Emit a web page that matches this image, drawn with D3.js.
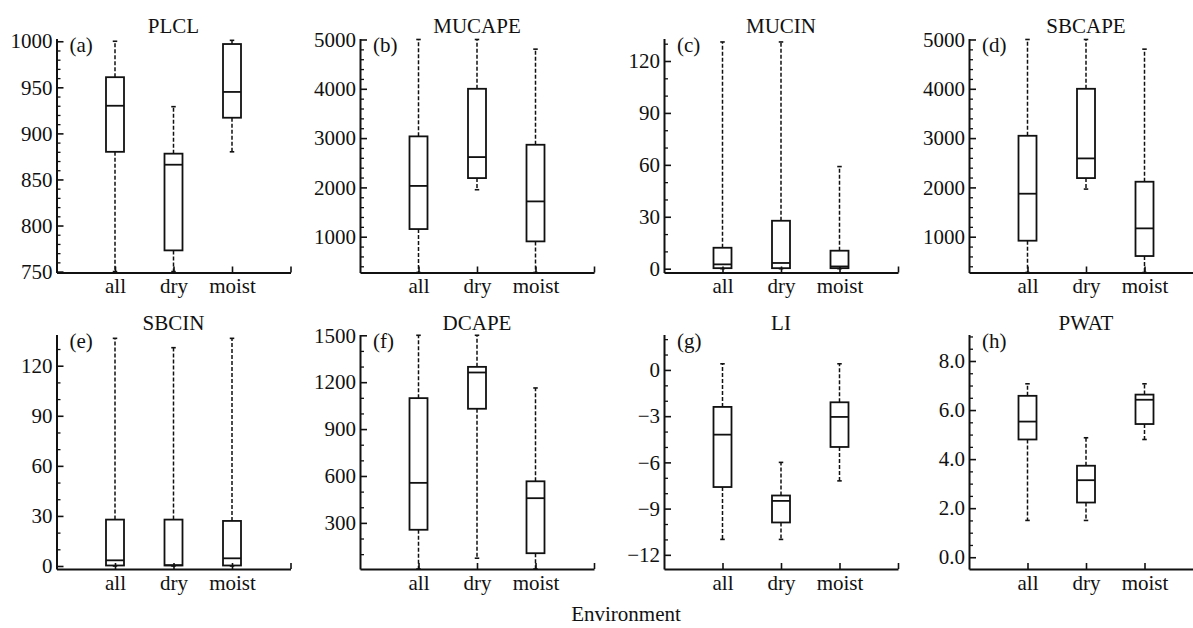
<!DOCTYPE html>
<html>
<head>
<meta charset="utf-8">
<script src="https://cdn.jsdelivr.net/npm/d3@7"></script>
<style>
  html, body { margin: 0; padding: 0; background: #fff; }
  svg { display: block; }
  svg text { font-family: "Liberation Serif", "Times New Roman", serif; }
</style>
</head>
<body>
<svg id="chart" width="1193" height="628"></svg>
<script>
// ---------------- data ----------------
const categories = ["all", "dry", "moist"];
const panelTitles = ["PLCL", "MUCAPE", "MUCIN", "SBCAPE", "SBCIN", "DCAPE", "LI", "PWAT"];
const panelLetters = ["(a)", "(b)", "(c)", "(d)", "(e)", "(f)", "(g)", "(h)"];
const xAxisTitle = "Environment";

// five-number summaries per category: [whisker low, Q1, median, Q3, whisker high]
const plclStats   = [[750, 880, 930, 961, 1000], [750, 773, 866, 878, 929], [880, 917, 945, 997, 1001]];
const mucapeStats = [[0, 1155, 2030, 3035, 5000], [1953, 2189, 2615, 4000, 5000], [0, 905, 1716, 2865, 4804]];
const mucinStats  = [[0, 0.3, 2.5, 12.1, 131], [0, 0.3, 3.3, 27.7, 131], [0, 0.3, 1.3, 10.4, 59]];
const sbcapeStats = [[0, 919, 1872, 3047, 5000], [1966, 2189, 2588, 4000, 5000], [0, 608, 1169, 2115, 4804]];
const sbcinStats  = [[0, 0.3, 3.4, 27.8, 136.4], [0, 0.3, 0.5, 27.8, 130.8], [0, 0.3, 4.6, 27, 136.4]];
const dcapeStats  = [[0, 256, 556, 1098, 1500], [74, 1030, 1262, 1298, 1500], [0, 106, 458, 566, 1163]];
const liStats     = [[-11, -7.6, -4.2, -2.4, 0.4], [-11, -9.9, -8.5, -8.15, -6], [-7.2, -5, -3.05, -2.1, 0.4]];
const pwatStats   = [[1.5, 4.8, 5.53, 6.58, 7.07], [1.5, 2.23, 3.14, 3.73, 4.87], [4.8, 5.43, 6.42, 6.63, 7.07]];
const panelStats = [plclStats, mucapeStats, mucinStats, sbcapeStats, sbcinStats, dcapeStats, liStats, pwatStats];

// y-axis domains and tick labels
const yDomains = [[749, 1003], [274, 5020], [-2.2, 133], [274, 5020], [-1.8, 138.7], [5, 1505], [-12.92, 2.3], [-0.48, 9.08]];
const yTickValues = [
  [750, 800, 850, 900, 950, 1000],
  [1000, 2000, 3000, 4000, 5000],
  [0, 30, 60, 90, 120],
  [1000, 2000, 3000, 4000, 5000],
  [0, 30, 60, 90, 120],
  [300, 600, 900, 1200, 1500],
  [-12, -9, -6, -3, 0],
  [0, 2, 4, 6, 8]
];
const yMinorSteps = [10, 200, 10, 200, 10, 100, 1, 0.5];
const yTickFormats = ["d", "d", "d", "d", "d", "d", "minus", ".1f"];

// ---------------- layout ----------------
const colX = [56.5, 360, 664, 969];
const rowTop = [38.5, 334.5];
const rowBottom = [272.5, 569];
const plotW = 234;
const ink = "#111";
const FONT = "'Liberation Serif', 'Times New Roman', serif";
const FS = "21px";

const svg = d3.select("#chart");

function fmt(kind) {
  if (kind === "minus") return d => (d < 0 ? "\u2212" + Math.abs(d) : String(d));
  return d3.format(kind);
}

function styleText(sel) {
  sel.attr("font-family", null).attr("font-size", null);
  sel.selectAll("text").attr("fill", ink).style("font-family", FONT).style("font-size", FS);
}

panelStats.forEach((stats, i) => {
  const col = i % 4, row = Math.floor(i / 4);
  const x0 = colX[col], top = rowTop[row], bottom = rowBottom[row];
  const g = svg.append("g").attr("transform", `translate(${x0},0)`);

  const x = d3.scaleLinear().domain([0, 4]).range([0, plotW]);
  const y = d3.scaleLinear().domain(yDomains[i]).range([bottom, top]).clamp(true);

  // minor ticks
  const dom = yDomains[i];
  const step = yMinorSteps[i];
  const minor = d3.range(Math.ceil(dom[0] / step) * step, dom[1] + 1e-9, step)
    .map(v => +v.toFixed(6))
    .filter(v => !yTickValues[i].some(t => Math.abs(t - v) < 1e-6));
  g.append("g")
    .call(d3.axisLeft(y).tickValues(minor).tickSize(-4).tickSizeOuter(0).tickFormat(""))
    .call(a => a.select(".domain").remove())
    .call(a => a.selectAll("line").attr("stroke", ink).attr("stroke-width", 1.3));

  // major y axis
  g.append("g")
    .call(d3.axisLeft(y).tickValues(yTickValues[i]).tickSize(-7).tickSizeOuter(0).tickPadding(4).tickFormat(fmt(yTickFormats[i])))
    .call(a => a.select(".domain").attr("stroke", ink).attr("stroke-width", 2))
    .call(a => a.selectAll("line").attr("stroke", ink).attr("stroke-width", 1.6))
    .call(styleText);

  // x axis
  g.append("g")
    .attr("transform", `translate(0,${bottom})`)
    .call(d3.axisBottom(x).tickValues([1, 2, 3, 4]).tickSize(-6).tickSizeOuter(0).tickPadding(6)
      .tickFormat(d => categories[d - 1] || ""))
    .call(a => a.select(".domain").attr("stroke", ink).attr("stroke-width", 2))
    .call(a => a.selectAll("line").attr("stroke", ink).attr("stroke-width", 1.6))
    .call(styleText);

  // boxes
  const bw = 18, cap = 4.5;
  stats.forEach((s, j) => {
    const cx = x(j + 1);
    const [lo, q1, med, q3, hi] = s;
    const bg = g.append("g");
    [[q3, hi], [q1, lo]].forEach(([a, b]) => {
      bg.append("line")
        .attr("x1", cx).attr("x2", cx).attr("y1", y(a)).attr("y2", y(b))
        .attr("stroke", ink).attr("stroke-width", 1.5).attr("stroke-dasharray", "4,2");
      bg.append("line")
        .attr("x1", cx - cap / 2).attr("x2", cx + cap / 2).attr("y1", y(b)).attr("y2", y(b))
        .attr("stroke", ink).attr("stroke-width", 1.6);
    });
    bg.append("rect")
      .attr("x", cx - bw / 2).attr("width", bw)
      .attr("y", y(q3)).attr("height", Math.max(0, y(q1) - y(q3)))
      .attr("fill", "none").attr("stroke", ink).attr("stroke-width", 1.8);
    bg.append("line")
      .attr("x1", cx - bw / 2).attr("x2", cx + bw / 2).attr("y1", y(med)).attr("y2", y(med))
      .attr("stroke", ink).attr("stroke-width", 1.8);
  });

  // title
  g.append("text")
    .attr("x", x(2)).attr("y", row === 0 ? 32.5 : 330)
    .attr("text-anchor", "middle").attr("fill", ink)
    .style("font-family", FONT).style("font-size", FS)
    .text(panelTitles[i]);

  // panel letter
  g.append("text")
    .attr("x", 13).attr("y", top + 13.5)
    .attr("fill", ink)
    .style("font-family", FONT).style("font-size", FS)
    .text(panelLetters[i]);
});

svg.append("text")
  .attr("x", 626).attr("y", 621)
  .attr("text-anchor", "middle").attr("fill", ink)
  .style("font-family", FONT).style("font-size", FS)
  .text(xAxisTitle);
</script>
</body>
</html>
